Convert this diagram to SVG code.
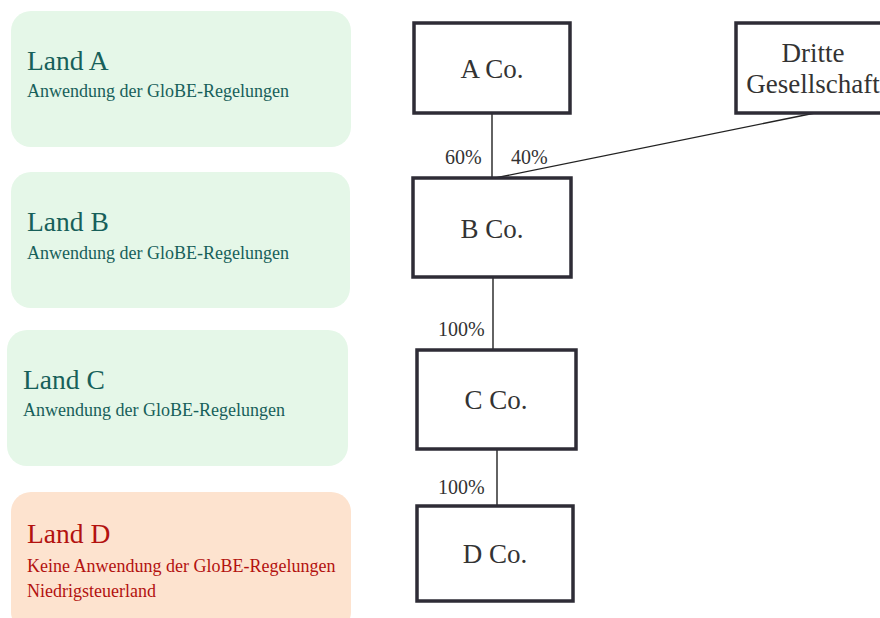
<svg xmlns="http://www.w3.org/2000/svg" width="880" height="618" viewBox="0 0 880 618">
<style>
  .land { fill: #e5f7e8; }
  .landD { fill: #fde3cf; }
  .lt { font-family: "Liberation Serif", "Times New Roman", serif; fill: #17605a; }
  .ltD { font-family: "Liberation Serif", "Times New Roman", serif; fill: #b3120f; }
  .title { font-size: 27.5px; }
  .sub { font-size: 18px; }
  .co { fill: #ffffff; stroke: #2e2c36; stroke-width: 3.5; }
  .ct { font-family: "Liberation Serif", "Times New Roman", serif; font-size: 27px; fill: #333333; text-anchor: middle; }
  .pct { font-family: "Liberation Serif", "Times New Roman", serif; font-size: 20px; fill: #333333; }
  .conn line { stroke: #222222; stroke-width: 1.4; }
</style>
<rect width="880" height="618" fill="#ffffff"/>

<g id="land-a">
  <rect class="land" x="11" y="11" width="340" height="136" rx="20"/>
  <text class="lt title" x="27" y="70">Land A</text>
  <text class="lt sub" x="27" y="97">Anwendung der GloBE-Regelungen</text>
</g>
<g id="land-b">
  <rect class="land" x="11" y="172" width="339" height="136" rx="20"/>
  <text class="lt title" x="27" y="231">Land B</text>
  <text class="lt sub" x="27" y="259">Anwendung der GloBE-Regelungen</text>
</g>
<g id="land-c">
  <rect class="land" x="7" y="330" width="341" height="136" rx="20"/>
  <text class="lt title" x="23" y="389">Land C</text>
  <text class="lt sub" x="23" y="416">Anwendung der GloBE-Regelungen</text>
</g>
<g id="land-d">
  <rect class="landD" x="11" y="492" width="340" height="140" rx="20"/>
  <text class="ltD title" x="27" y="543">Land D</text>
  <text class="ltD sub" x="27" y="572">Keine Anwendung der GloBE-Regelungen</text>
  <text class="ltD sub" x="27" y="597">Niedrigsteuerland</text>
</g>

<g id="connectors" class="conn">
  <line x1="492" y1="113" x2="492" y2="178"/>
  <line x1="815" y1="113" x2="495" y2="178"/>
  <line x1="493" y1="277" x2="493" y2="350"/>
  <line x1="497" y1="449" x2="497" y2="506"/>
  <text class="pct" x="445" y="164">60%</text>
  <text class="pct" x="511" y="164">40%</text>
  <text class="pct" x="438" y="336">100%</text>
  <text class="pct" x="438" y="494">100%</text>
</g>

<g id="a-co">
  <rect class="co" x="414" y="23" width="156" height="90"/>
  <text class="ct" x="492" y="78">A Co.</text>
</g>
<g id="dritte">
  <rect class="co" x="736" y="23" width="154" height="90"/>
  <text class="ct" x="813" y="62">Dritte</text>
  <text class="ct" x="813" y="93">Gesellschaft</text>
</g>
<g id="b-co">
  <rect class="co" x="413" y="178" width="158" height="99"/>
  <text class="ct" x="492" y="238">B Co.</text>
</g>
<g id="c-co">
  <rect class="co" x="417" y="350" width="159" height="99"/>
  <text class="ct" x="496" y="409">C Co.</text>
</g>
<g id="d-co">
  <rect class="co" x="417" y="506" width="156" height="95"/>
  <text class="ct" x="495" y="563">D Co.</text>
</g>
</svg>
